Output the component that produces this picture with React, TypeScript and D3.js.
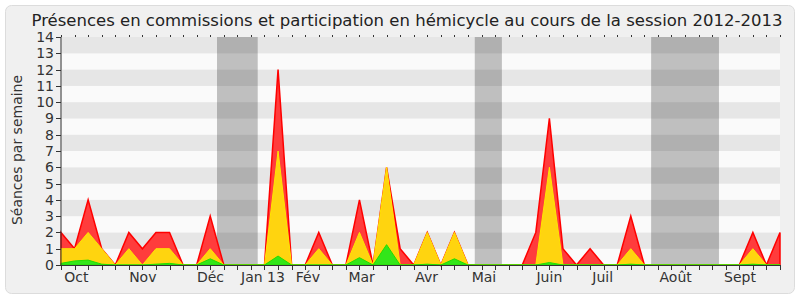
import React from 'react';
import * as d3 from 'd3';

// Weekly values (index = week of the session)
const totalPresence = [2, 1, 4, 1, 0, 2, 1, 2, 2, 0, 0, 3, 0, 0, 0, 0, 12, 0, 0, 2, 0, 0, 4, 0, 6, 1, 0, 2, 0, 2, 0, 0, 0, 0, 0, 2, 9, 1, 0, 1, 0, 0, 3, 0, 0, 0, 0, 0, 0, 0, 0, 2, 0, 2];
const hemicycle = [1, 1, 2, 1, 0, 1, 0, 1, 1, 0, 0, 1, 0, 0, 0, 0, 7, 0, 0, 1, 0, 0, 2, 0, 6, 0, 0, 2, 0, 2, 0, 0, 0, 0, 0, 0, 6, 0, 0, 0, 0, 0, 1, 0, 0, 0, 0, 0, 0, 0, 0, 1, 0, 0];
const commissions = [0.1, 0.25, 0.3, 0.05, 0, 0, 0, 0.05, 0.1, 0, 0, 0.38, 0, 0, 0, 0, 0.55, 0, 0, 0, 0, 0, 0.45, 0, 1.25, 0, 0, 0.05, 0, 0.38, 0, 0, 0, 0, 0, 0, 0.15, 0, 0, 0, 0, 0, 0.05, 0, 0, 0, 0, 0, 0, 0, 0, 0.05, 0, 0];

const yTicks = d3.range(0, 15);
const monthLabels = ['Oct', 'Nov', 'Déc', 'Jan 13', 'Fév', 'Mar', 'Avr', 'Mai', 'Juin', 'Juil', 'Août', 'Sept'];
const monthWeeks = [1.14, 6.03, 11.02, 14.89, 18.2, 22.16, 26.96, 31.18, 36.0, 39.93, 45.31, 50.05];
const holidayStart = [11.5, 30.5, 43.5];
const holidayEnd = [14.5, 32.5, 48.5];

const FONT = "'DejaVu Sans', sans-serif";

export default function App() {
  const W = 800, H = 300;
  const weeks = d3.range(totalPresence.length);
  const x = d3.scaleLinear().domain([0, weeks.length - 1]).range([61, 780]);
  const y = d3.scaleLinear().domain([0, 14]).range([265, 37]);
  const areaGen = d3.area<number>().x((_, i) => x(i)).y0(y(0)).y1((d) => y(d));

  return (
    <svg width={W} height={H} style={{ position: 'absolute', left: 0, top: 0 }} fontFamily={FONT}>
      <rect x={0} y={0} width={W} height={H} fill="#ffffff" />
      <rect x={5.5} y={5.5} width={789} height={288} rx={6} fill="#f0f0f0" stroke="#dcdcdc" />
      {/* stripes */}
      {d3.range(0, 14).map((k) => (
        <rect key={'s' + k} x={x(0) + 1} y={y(k + 1)} width={x(weeks.length - 1) - x(0) - 1} height={y(k) - y(k + 1)}
          fill={k % 2 === 1 ? '#e6e6e6' : '#fafafa'} />
      ))}
      {/* holidays */}
      {holidayStart.map((s, i) => (
        <rect key={'h' + i} x={x(s)} y={y(14)} width={x(holidayEnd[i]) - x(s)} height={y(0) - y(14)} fill="#000" fillOpacity={0.235} />
      ))}
      {/* areas */}
      <path d={areaGen(totalPresence) || ''} fill="#ff3c3c" stroke="#ff0000" strokeWidth={1.5} strokeLinejoin="miter" />
      <path d={areaGen(hemicycle) || ''} fill="#ffd40f" stroke="#ffe600" strokeWidth={1} />
      <path d={areaGen(commissions) || ''} fill="#33e61a" stroke="#22dd00" strokeWidth={1} />
      {/* axes */}
      <line x1={61} x2={61} y1={y(14)} y2={y(0)} stroke="#333" />
      <line x1={61} x2={x(weeks.length - 1)} y1={y(0) + 0.5} y2={y(0) + 0.5} stroke="#333" />
      {yTicks.map((t) => (
        <g key={'y' + t}>
          <line x1={56} x2={61} y1={Math.round(y(t)) + 0.5} y2={Math.round(y(t)) + 0.5} stroke="#333" />
          <text x={54} y={y(t)} dy="0.36em" textAnchor="end" fontSize={14} fill="#333">{t}</text>
        </g>
      ))}
      {weeks.map((w) => (
        <g key={'w' + w}>
          <line x1={Math.round(x(w)) + 0.5} x2={Math.round(x(w)) + 0.5} y1={y(0)} y2={y(0) + 5} stroke="#333" />
          <line x1={Math.round(x(w)) + 0.5} x2={Math.round(x(w)) + 0.5} y1={y(14) - 2} y2={y(14)} stroke="#333" />
        </g>
      ))}
      {monthLabels.map((m, i) => (
        <text key={'m' + i} x={x(monthWeeks[i])} y={282} textAnchor="middle" fontSize={14} fill="#333">{m}</text>
      ))}
      <text x={407} y={25.5} textAnchor="middle" fontSize={16.5} fill="#222">
        Présences en commissions et participation en hémicycle au cours de la session 2012-2013
      </text>
      <text transform="translate(22,150) rotate(-90)" textAnchor="middle" fontSize={14} fill="#333">Séances par semaine</text>
    </svg>
  );
}
